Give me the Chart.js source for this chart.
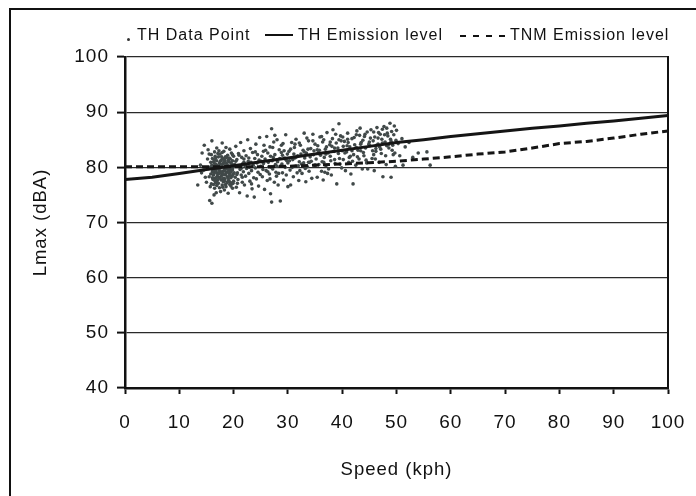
<!DOCTYPE html>
<html>
<head>
<meta charset="utf-8">
<script src="https://cdn.jsdelivr.net/npm/chart.js@4.4.1/dist/chart.umd.min.js"></script>
<style>
  html, body { margin: 0; padding: 0; background: #fff; }
  #wrap { position: relative; width: 696px; height: 496px; overflow: hidden; }
  #frame { position: absolute; left: 9px; top: 8px; width: 800px; height: 600px;
           border-left: 2px solid #111; border-top: 2px solid #111; }
  #chart { position: absolute; left: 0; top: 0; }
  .lg { position: absolute; top: 26px; font: 16px 'Liberation Sans', Arial, sans-serif;
        letter-spacing: 1px; line-height: 18px; color: #111; white-space: nowrap; }
  .dot { position: absolute; left: 127px; top: 38px; width: 3px; height: 3px; border-radius: 50%; background: #333; }
  .solid { position: absolute; left: 265px; top: 34px; width: 28px; height: 2px; background: #111; }
  .dash { position: absolute; left: 460px; top: 35px; width: 45px; height: 2px;
          background: repeating-linear-gradient(90deg, #111 0 6px, transparent 6px 13px); }
</style>
</head>
<body>
<div id="wrap">
  <div id="frame"></div>
  <canvas id="chart" width="696" height="496"></canvas>
  <div class="dot"></div>
  <span class="lg" style="left:137px">TH Data Point</span>
  <div class="solid"></div>
  <span class="lg" style="left:298px">TH Emission level</span>
  <div class="dash"></div>
  <span class="lg" style="left:510px">TNM Emission level</span>
</div>
<script>
// emission level curves (read every 5 kph)
const lineSpeed = [0, 5, 10, 15, 20, 25, 30, 35, 40, 45, 50, 55, 60, 65, 70, 75, 80, 85, 90, 95, 100];
const thLevel   = [77.8, 78.2, 78.9, 79.6, 80.3, 81.0, 81.7, 82.4, 83.1, 83.8, 84.5, 85.0, 85.6, 86.1, 86.6, 87.1, 87.5, 88.0, 88.4, 88.9, 89.4];
const tnmLevel  = [80.1, 80.1, 80.1, 80.1, 80.1, 80.1, 80.2, 80.4, 80.6, 80.85, 81.1, 81.5, 81.9, 82.4, 82.8, 83.5, 84.3, 84.7, 85.3, 86.0, 86.6];

// TH measured points (speed kph, Lmax dBA)
const pointSpeed = [
  13.4, 14.2, 14.5, 14.8, 13.9, 14.6, 15.0, 14.1,
  15.2, 15.4, 15.5, 15.6, 15.7, 15.8, 15.9, 16.0, 16.0, 16.1, 16.2, 16.3, 16.3, 16.4, 16.5, 16.5, 16.6, 16.6, 16.7, 16.7, 16.8, 16.8, 16.9, 16.9, 17.0,
  15.3, 15.6, 15.9, 16.1, 16.2, 16.4, 16.5, 16.7, 16.9, 17.0, 15.8, 16.0, 16.3, 16.6, 16.8, 16.4, 15.5, 16.2, 16.9, 16.1,
  17.1, 17.1, 17.2, 17.2, 17.3, 17.3, 17.4, 17.4, 17.5, 17.5, 17.6, 17.6, 17.7, 17.7, 17.8, 17.8, 17.9, 17.9, 18.0, 18.0,
  18.1, 18.1, 18.2, 18.2, 18.3, 18.3, 18.4, 18.4, 18.5, 18.5, 18.6, 18.6, 18.7, 18.7, 18.8, 18.8, 18.9, 18.9, 19.0, 19.0,
  19.1, 19.1, 19.2, 19.2, 19.3, 19.3, 19.4, 19.4, 19.5, 19.5, 19.6, 19.6, 19.7, 19.7, 19.8, 19.8, 19.9, 19.9, 20.0, 20.0,
  17.3, 17.6, 17.9, 18.2, 18.5, 18.8, 19.1, 19.4, 19.7, 18.0, 18.4, 18.9, 19.3, 17.8, 18.6, 19.0, 19.5, 17.5, 18.3, 19.8,
  16.2, 16.5, 16.8, 17.1, 17.4, 17.7, 18.0, 18.3, 18.6, 18.9, 19.2, 19.5, 19.8, 20.1, 20.4, 20.7, 21.0, 21.3, 21.6, 21.9,
  17.0, 17.6, 18.1, 18.7, 19.3, 19.9, 16.6, 17.9, 18.5, 19.0,
  20.2, 20.3, 20.4, 20.5, 20.6, 20.7, 20.8, 20.9, 21.0, 21.1, 21.2, 21.3, 21.4, 21.5, 21.6, 21.7, 21.8, 21.9, 22.0, 22.1,
  22.2, 22.3, 22.4, 22.5, 22.6, 22.7, 22.8, 22.9, 23.0, 23.1, 23.2, 23.3, 23.4, 23.5, 23.6, 23.7, 23.8, 23.9, 24.0, 24.1,
  24.2, 24.3, 24.4, 24.5, 24.6, 24.7, 24.8, 24.9, 25.0, 21.5, 22.8, 23.3, 24.0, 20.6, 21.9,
  25.2, 25.3, 25.5, 25.6, 25.7, 25.8, 26.0, 26.1, 26.2, 26.3, 26.5, 26.6, 26.7, 26.8, 27.0, 27.0, 27.1, 27.2, 27.4, 27.5,
  27.6, 27.7, 27.9, 28.0, 28.1, 28.2, 28.4, 28.6, 28.7, 28.8, 29.0, 29.1, 29.2, 29.4, 29.5, 29.6, 29.7, 29.9, 30.0, 30.0,
  25.9, 26.4, 27.3, 27.8, 28.5, 28.9, 29.3, 25.4, 26.9, 28.3, 29.8, 26.7, 27.6, 25.1, 29.0,
  30.2, 30.4, 30.5, 30.7, 30.9, 31.0, 31.2, 31.4, 31.5, 31.7, 31.8, 32.0, 32.1, 32.3, 32.5, 32.6, 32.8, 33.0, 33.1, 33.3,
  33.4, 33.6, 33.8, 33.9, 34.1, 34.2, 34.4, 34.6, 34.7, 34.9, 35.0, 30.8, 31.6, 32.4, 33.2, 34.0, 34.8, 31.1, 32.9, 33.7,
  30.3, 34.3, 32.2, 31.3, 33.5,
  35.2, 35.4, 35.5, 35.7, 35.9, 36.0, 36.2, 36.4, 36.5, 36.7, 36.9, 37.0, 37.2, 37.4, 37.5, 37.7, 37.9, 38.0, 38.2, 38.3,
  38.5, 38.7, 38.9, 39.0, 39.2, 39.4, 39.5, 39.7, 39.9, 40.0, 35.6, 36.3, 37.1, 37.8, 38.6, 39.3, 36.8, 38.1, 39.6, 35.1,
  36.6, 37.3, 38.8, 39.8, 35.8,
  40.2, 40.4, 40.6, 40.8, 41.0, 41.2, 41.4, 41.6, 41.8, 42.0, 42.1, 42.3, 42.5, 42.7, 42.9, 43.1, 43.3, 43.5, 43.7, 43.9,
  44.1, 44.3, 44.5, 44.7, 44.9, 40.9, 41.5, 42.2, 42.8, 43.4, 44.0, 44.6, 41.1, 42.6, 43.8, 40.5, 41.9, 43.2, 44.4, 40.1,
  45.1, 45.3, 45.5, 45.7, 45.9, 46.0, 46.2, 46.4, 46.6, 46.8, 47.0, 47.1, 47.3, 47.5, 47.7, 47.9, 48.0, 48.2, 48.4, 48.6,
  48.8, 49.0, 49.1, 49.3, 49.5, 49.7, 49.9, 50.0, 45.6, 46.3, 47.2, 47.8, 48.5, 49.2, 46.7, 48.1, 49.6, 45.2, 46.9, 48.9,
  47.4, 45.8, 48.3, 49.8, 46.1,
  25.5, 26.3, 27.2, 28.0, 28.8, 29.6, 30.5, 31.3, 32.1, 33.0, 33.8, 34.6, 35.4, 36.2, 37.0, 37.8, 38.6, 39.4, 40.2, 41.0,
  41.8, 42.6, 43.4, 44.2, 45.0, 45.8, 46.6, 47.4, 48.2, 49.0, 26.8, 31.9, 36.6, 41.3, 46.2, 49.4,
  50.3, 50.6, 51.0, 51.2, 51.6, 52.3, 53.0, 54.0, 55.6, 56.2
];
const pointLmax = [
  76.8, 82.6, 79.5, 78.2, 80.4, 84.0, 77.3, 79.0,
  81.5, 79.8, 78.3, 74.0, 76.5, 80.9, 82.3, 84.8, 73.5, 79.2, 77.8, 81.0, 78.6, 80.2, 76.2, 82.8, 79.6, 78.0, 81.7, 77.2, 80.5, 75.4, 79.0, 83.5, 78.4,
  83.2, 80.0, 77.0, 81.6, 79.9, 78.9, 80.7, 79.3, 81.2, 77.6, 78.8, 80.4, 76.9, 82.0, 78.1, 75.0, 82.4, 80.0, 76.7, 78.1,
  80.3, 78.8, 81.9, 77.1, 79.5, 83.0, 76.3, 80.8, 78.2, 82.4, 79.9, 75.6, 81.3, 77.7, 80.1, 78.5, 84.4, 76.8, 79.3, 81.6,
  77.4, 80.6, 78.0, 82.9, 79.7, 75.9, 81.1, 77.9, 80.0, 78.6, 83.6, 76.5, 79.1, 81.8, 77.2, 80.4, 78.3, 82.2, 79.6, 75.3,
  81.0, 77.6, 80.2, 78.9, 83.3, 76.9, 79.4, 81.5, 78.1, 80.8, 77.0, 82.6, 79.8, 78.4, 81.2, 76.2, 80.0, 78.7, 82.0, 77.5,
  78.0, 80.5, 79.0, 80.9, 76.9, 79.8, 79.2, 77.3, 80.6, 77.9, 79.4, 80.3, 78.5, 81.9, 78.9, 81.3, 79.1, 79.3, 77.5, 79.5,
  79.4, 81.3, 79.7, 82.5, 78.9, 80.4, 76.4, 81.4, 80.2, 77.4, 81.7, 76.6, 82.3, 79.0, 81.1, 77.1, 82.2, 79.9, 78.2, 81.5,
  80.0, 81.1, 78.7, 80.7, 80.0, 77.1, 77.5, 82.7, 81.9, 78.0,
  80.5, 78.2, 83.8, 76.4, 81.4, 79.0, 77.8, 82.5, 80.1, 75.4, 79.6, 84.5, 78.6, 81.8, 77.3, 80.7, 79.2, 83.0, 76.8, 80.3,
  78.4, 82.1, 79.8, 74.8, 85.0, 81.1, 78.9, 80.0, 77.5, 83.4, 80.9, 79.4, 76.1, 82.7, 80.4, 78.1, 74.6, 81.6, 79.9, 84.2,
  77.9, 80.8, 82.3, 79.1, 76.6, 81.3, 85.4, 78.7, 80.2, 79.9, 81.7, 77.0, 82.8, 78.7, 80.9,
  82.0, 78.3, 80.7, 84.0, 76.0, 81.5, 79.4, 85.6, 77.6, 82.6, 80.1, 78.8, 83.7, 75.2, 87.0, 73.7, 81.2, 79.7, 84.6, 77.3,
  82.3, 80.5, 78.4, 85.0, 81.0, 76.8, 83.2, 73.9, 80.3, 82.7, 79.0, 84.3, 77.7, 81.7, 80.0, 85.9, 78.6, 82.4, 76.5, 80.8,
  83.1, 80.9, 81.8, 79.1, 81.6, 80.6, 83.0, 79.6, 80.0, 78.9, 81.2, 77.9, 85.8, 81.1, 82.2,
  82.9, 79.5, 76.8, 84.5, 81.4, 78.3, 83.6, 80.2, 85.1, 79.0, 82.1, 77.6, 81.0, 84.0, 80.6, 78.9, 83.1, 86.2, 81.7, 77.4,
  82.6, 80.1, 84.8, 79.3, 81.9, 83.4, 78.0, 86.0, 82.3, 80.4, 84.2, 80.0, 81.9, 82.4, 79.8, 80.9, 83.0, 82.4, 80.8, 83.3,
  81.2, 81.1, 79.4, 84.2, 85.3,
  81.5, 78.2, 83.9, 80.5, 85.5, 82.2, 79.3, 84.6, 77.7, 81.8, 83.3, 80.3, 86.3, 82.6, 79.7, 84.1, 81.2, 78.6, 85.2, 86.8,
  82.9, 80.7, 84.4, 77.0, 83.5, 87.9, 81.6, 85.7, 79.9, 83.0, 82.7, 81.0, 83.7, 82.0, 81.4, 82.5, 79.1, 83.8, 80.6, 80.4,
  85.0, 78.9, 86.0, 84.8, 83.1,
  81.4, 84.7, 79.4, 82.8, 86.2, 80.9, 83.7, 78.8, 85.2, 77.0, 82.3, 84.1, 80.4, 86.6, 83.1, 81.5, 87.1, 84.5, 79.7, 82.7,
  85.6, 83.5, 80.8, 79.7, 84.2, 83.9, 82.0, 85.4, 81.9, 83.0, 82.1, 86.4, 84.5, 83.6, 84.9, 82.6, 81.1, 85.8, 81.3, 85.5,
  83.9, 86.8, 81.6, 84.8, 79.4, 85.5, 82.9, 87.2, 84.2, 80.9, 86.0, 83.3, 85.1, 78.3, 87.4, 84.6, 82.1, 87.1, 85.7, 83.5,
  88.0, 78.2, 86.5, 84.0, 85.9, 82.6, 84.9, 86.7, 83.0, 84.0, 82.5, 85.9, 84.1, 83.1, 86.3, 80.5, 87.5, 85.3, 83.7, 85.1,
  86.9, 82.3, 86.2, 80.2, 81.5,
  82.9, 79.2, 83.6, 80.2, 84.0, 81.4, 83.3, 81.7, 84.4, 82.8, 80.9, 84.8, 83.2, 85.6, 82.4, 84.6, 83.5, 85.0, 83.8, 85.1,
  83.0, 85.9, 84.2, 86.0, 84.6, 86.4, 85.3, 84.4, 83.9, 84.7, 82.0, 80.3, 80.9, 81.8, 83.4, 82.3,
  84.3, 82.1, 85.2, 80.4, 83.7, 84.5, 81.8, 82.6, 82.8, 80.4
];

const xTicks = [0, 10, 20, 30, 40, 50, 60, 70, 80, 90, 100];
const yTicks = [40, 50, 60, 70, 80, 90, 100];

const FONT = "'Liberation Sans', Arial, Helvetica, sans-serif";

// espacement des lettres comme dans l'original
const spacing = {
  id: 'spacing',
  beforeLayout(chart) { chart.ctx.letterSpacing = '1px'; },
  beforeDraw(chart) { chart.ctx.letterSpacing = '1px'; }
};

const toXY = (xs, ys) => xs.map((x, i) => ({ x: x, y: ys[i] }));

new Chart(document.getElementById('chart'), {
  type: 'scatter',
  data: {
    datasets: [
      {
        type: 'line',
        label: 'TH Emission level',
        data: toXY(lineSpeed, thLevel),
        borderColor: '#151515',
        borderWidth: 3,
        pointRadius: 0,
        fill: false,
        tension: 0,
        order: 0
      },
      {
        type: 'line',
        label: 'TNM Emission level',
        data: toXY(lineSpeed, tnmLevel),
        borderColor: '#151515',
        borderWidth: 3,
        borderDash: [7, 4],
        pointRadius: 0,
        fill: false,
        tension: 0,
        order: 1
      },
      {
        label: 'TH Data Point',
        data: toXY(pointSpeed, pointLmax),
        pointRadius: 1.8,
        pointBorderWidth: 0,
        backgroundColor: '#414949',
        borderColor: '#414949',
        order: 2
      }
    ]
  },
  options: {
    responsive: false,
    animation: false,
    layout: { padding: { top: 57, right: 28, left: 0, bottom: 0 } },
    plugins: {
      legend: { display: false },
      tooltip: { enabled: false }
    },
    scales: {
      x: {
        type: 'linear',
        min: 0, max: 100,
        afterBuildTicks: s => { s.ticks = xTicks.map(v => ({ value: v })); },
        afterFit: s => { s.height = 108; s.paddingLeft = 0; s.paddingRight = 0; },
        ticks: { color: '#111', padding: 17, font: { family: FONT, size: 19 } },
        grid: { drawOnChartArea: false, drawTicks: true, tickLength: 6, tickColor: '#111', tickWidth: 2 },
        border: { display: true, color: '#111', width: 2.5 },
        title: { display: true, text: 'Speed (kph)', color: '#111', padding: { bottom: 15 },
                 font: { family: FONT, size: 18.5 } }
      },
      y: {
        type: 'linear',
        min: 40, max: 100,
        afterBuildTicks: s => { s.ticks = yTicks.map(v => ({ value: v })); },
        afterFit: s => { s.width = 125; s.paddingTop = 0; s.paddingBottom = 0; },
        ticks: { color: '#111', padding: 8, font: { family: FONT, size: 19 } },
        grid: { color: '#2a2a2a', lineWidth: 1.2, drawTicks: true, tickLength: 8, tickColor: '#111', tickWidth: 2 },
        border: { display: true, color: '#111', width: 2.5 },
        title: { display: true, text: 'Lmax (dBA)', color: '#111', padding: { top: 30 },
                 font: { family: FONT, size: 18.5 } }
      },
      yRight: {
        type: 'linear',
        position: 'right',
        min: 40, max: 100,
        afterFit: s => { s.width = 0; },
        ticks: { display: false },
        grid: { drawOnChartArea: false, drawTicks: false },
        border: { display: true, color: '#111', width: 2 }
      }
    }
  },
  plugins: [spacing]
});
</script>
</body>
</html>
